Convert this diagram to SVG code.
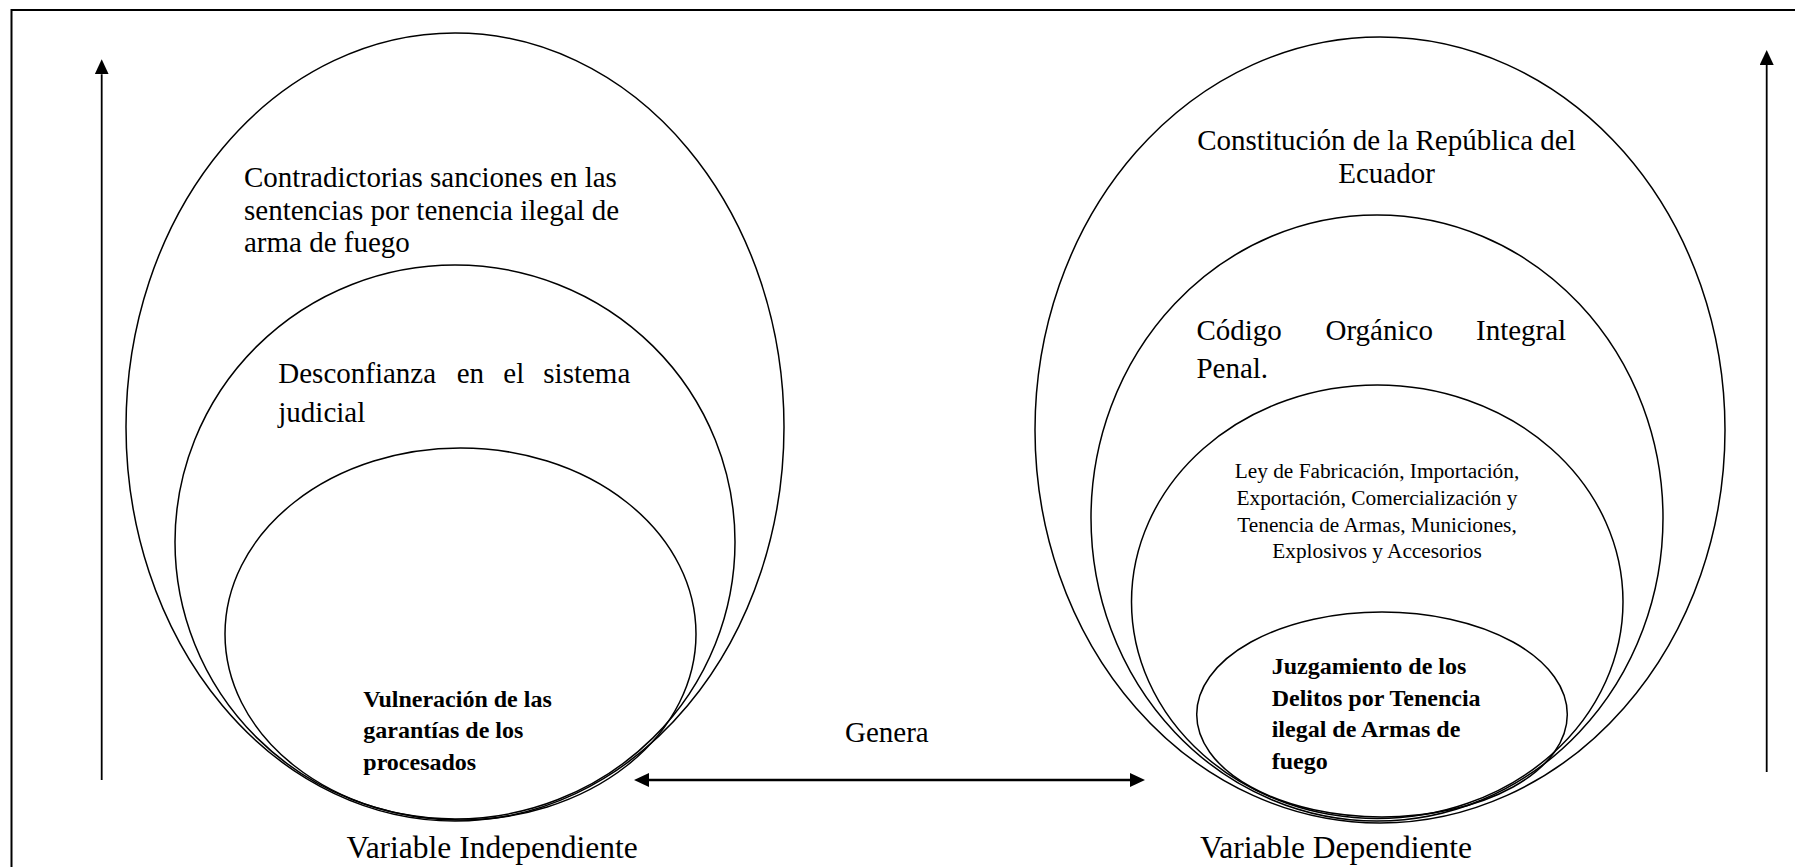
<svg xmlns="http://www.w3.org/2000/svg" width="1795" height="867" viewBox="0 0 1795 867">
  <style>
    .ell { fill: none; stroke: #000; stroke-width: 1.5; }
    .t { font-family: "Liberation Serif", "Times New Roman", serif; fill: #000; }
    .body { font-size: 29px; }
    .lbl { font-size: 31.5px; }
    .small { font-size: 21.3px; }
    .bold { font-size: 24px; font-weight: bold; }
    .arr { stroke: #000; fill: none; }
  </style>
  <defs>
    <marker id="ah" viewBox="0 0 15 14" refX="0" refY="7" markerWidth="15" markerHeight="14" markerUnits="userSpaceOnUse" orient="auto-start-reverse">
      <path d="M0,0 L15,7 L0,14 Z" fill="#000"/>
    </marker>
  </defs>
  <rect width="1795" height="867" fill="#fff"/>
  <rect x="11.5" y="10" width="1800" height="900" fill="none" stroke="#000" stroke-width="2"/>

  <g id="vi-outer">
    <ellipse class="ell" cx="455" cy="427" rx="329" ry="394"/>
    <text class="t body" x="244" y="186.7">Contradictorias sanciones en las</text>
    <text class="t body" x="244" y="220">sentencias por tenencia ilegal de</text>
    <text class="t body" x="244" y="252">arma de fuego</text>
  </g>
  <g id="vi-middle">
    <ellipse class="ell" cx="455" cy="542" rx="280" ry="277"/>
    <text class="t body" y="383.3"><tspan x="278.3">Desconfianza</tspan><tspan x="456.7">en</tspan><tspan x="503.3">el</tspan><tspan x="543.3">sistema</tspan></text>
    <text class="t body" x="278.3" y="421.5">judicial</text>
  </g>
  <g id="vi-inner">
    <ellipse class="ell" cx="460.5" cy="634" rx="235.5" ry="186"/>
    <text class="t bold" x="363.3" y="706.7">Vulneración de las</text>
    <text class="t bold" x="363.3" y="738.3">garantías de los</text>
    <text class="t bold" x="363.3" y="769.5">procesados</text>
  </g>

  <g id="vd-outer">
    <ellipse class="ell" cx="1380" cy="430" rx="345" ry="393"/>
    <text class="t body" x="1386.5" y="150" text-anchor="middle">Constitución de la República del</text>
    <text class="t body" x="1386.5" y="183.3" text-anchor="middle">Ecuador</text>
  </g>
  <g id="vd-second">
    <ellipse class="ell" cx="1377" cy="518" rx="286" ry="303"/>
    <text class="t body" y="340"><tspan x="1196.4">Código</tspan><tspan x="1325.5">Orgánico</tspan><tspan x="1476">Integral</tspan></text>
    <text class="t body" x="1196.4" y="378">Penal.</text>
  </g>
  <g id="vd-third">
    <ellipse class="ell" cx="1377.25" cy="601.75" rx="245.75" ry="216.75"/>
    <text class="t small" x="1377" y="478.3" text-anchor="middle">Ley de Fabricación, Importación,</text>
    <text class="t small" x="1377" y="505" text-anchor="middle">Exportación, Comercialización y</text>
    <text class="t small" x="1377" y="531.7" text-anchor="middle">Tenencia de Armas, Municiones,</text>
    <text class="t small" x="1377" y="558.3" text-anchor="middle">Explosivos y Accesorios</text>
  </g>
  <g id="vd-inner">
    <ellipse class="ell" cx="1382" cy="714.5" rx="185.3" ry="102.5"/>
    <text class="t bold" x="1271.7" y="674.3">Juzgamiento de los</text>
    <text class="t bold" x="1271.7" y="705.7">Delitos por Tenencia</text>
    <text class="t bold" x="1271.7" y="737.3">ilegal de Armas de</text>
    <text class="t bold" x="1271.7" y="769.3">fuego</text>
  </g>

  <g id="labels">
    <text class="t lbl" x="492" y="858" text-anchor="middle">Variable Independiente</text>
    <text class="t lbl" x="1336" y="858" text-anchor="middle">Variable Dependiente</text>
    <text class="t body" x="845" y="741.7">Genera</text>
  </g>

  <g id="connectors">
    <line class="arr" x1="101.7" y1="780" x2="101.7" y2="74.3" stroke-width="1.8" marker-end="url(#ah)"/>
    <line class="arr" x1="1766.7" y1="772" x2="1766.7" y2="65" stroke-width="1.8" marker-end="url(#ah)"/>
    <line class="arr" x1="649" y1="780" x2="1130" y2="780" stroke-width="2.5" marker-start="url(#ah)" marker-end="url(#ah)"/>
  </g>
</svg>
